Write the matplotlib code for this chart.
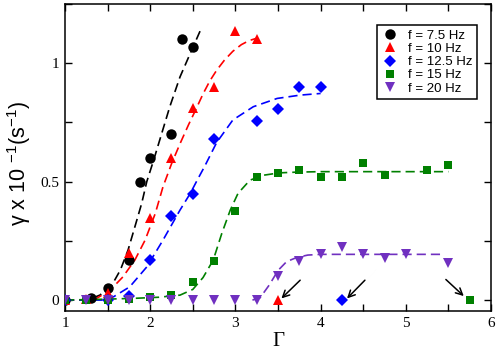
import matplotlib
matplotlib.use("Agg")
import matplotlib.pyplot as plt
from matplotlib.ticker import MultipleLocator, FuncFormatter

plt.rcParams['mathtext.fontset'] = 'custom'
plt.rcParams['mathtext.rm'] = 'Liberation Sans'
plt.rcParams['mathtext.it'] = 'Liberation Sans:italic'

# --- measured points ---
labels = ['f = 7.5 Hz', 'f = 10 Hz', 'f = 12.5 Hz', 'f = 15 Hz', 'f = 20 Hz']

g75 = [1.0, 1.3, 1.5, 1.75, 1.875, 2.0, 2.25, 2.375, 2.5]
y75 = [0, 0.01, 0.05, 0.17, 0.50, 0.60, 0.70, 1.10, 1.07]

g10 = [1.0, 1.25, 1.5, 1.75, 2.0, 2.25, 2.5, 2.75, 3.0, 3.25, 3.5]
y10 = [0, 0.005, 0.03, 0.20, 0.345, 0.60, 0.81, 0.90, 1.135, 1.10, 0]

g125 = [1.0, 1.5, 1.75, 2.0, 2.25, 2.5, 2.75, 3.25, 3.5, 3.75, 4.0, 4.25]
y125 = [0, 0, 0.016, 0.168, 0.356, 0.448, 0.678, 0.757, 0.808, 0.90, 0.90, 0]

g15 = [1.0, 1.25, 1.5, 1.75, 2.0, 2.25, 2.5, 2.75, 3.0, 3.25, 3.5, 3.75, 4.0,
       4.25, 4.5, 4.75, 5.25, 5.5, 5.75]
y15 = [0, 0, 0, 0.004, 0.014, 0.02, 0.075, 0.167, 0.378, 0.52, 0.537, 0.547,
       0.519, 0.519, 0.577, 0.528, 0.548, 0.568, 0]

g20 = [1.0, 1.25, 1.5, 1.75, 2.0, 2.25, 2.5, 2.75, 3.0, 3.25, 3.5, 3.75, 4.0,
       4.25, 4.5, 4.75, 5.0, 5.5]
y20 = [0, 0, 0, 0, 0, 0, 0, 0, 0, 0, 0.101, 0.165, 0.196, 0.225, 0.194,
       0.178, 0.194, 0.155]

# --- fitted curves ---
fx75 = [1.0, 1.2, 1.29, 1.41, 1.55, 1.65, 1.74, 1.82, 1.90, 1.96, 2.04, 2.135,
        2.23, 2.35, 2.47, 2.59]
fy75 = [0, 0, 0.004, 0.021, 0.063, 0.127, 0.211, 0.309, 0.408, 0.50, 0.59,
        0.703, 0.816, 0.942, 1.041, 1.139]

fx10 = [1.0, 1.2, 1.37, 1.53, 1.68, 1.82, 1.94, 2.06, 2.15, 2.25, 2.35, 2.45,
        2.53, 2.62, 2.70, 2.78, 2.87, 2.97, 3.07, 3.16, 3.25]
fy10 = [0, 0, 0.007, 0.042, 0.098, 0.169, 0.253, 0.366, 0.478, 0.575, 0.66,
        0.74, 0.80, 0.87, 0.925, 0.97, 1.012, 1.05, 1.078, 1.095, 1.105]

fx125 = [1.0, 1.45, 1.57, 1.76, 1.96, 2.15, 2.35, 2.47, 2.55, 2.64, 2.78,
         2.97, 3.21, 3.49, 3.76, 4.0]
fy125 = [0, 0, 0.014, 0.056, 0.14, 0.253, 0.38, 0.45, 0.505, 0.565, 0.665,
         0.76, 0.816, 0.851, 0.865, 0.872]

fx15 = [1.0, 1.5, 1.85, 2.1, 2.35, 2.5, 2.62, 2.74, 2.84, 2.94, 3.03, 3.17,
        3.33, 3.52, 3.72, 4.0, 5.5]
fy15 = [0, 0.004, 0.008, 0.012, 0.021, 0.045, 0.095, 0.169, 0.281, 0.38,
        0.45, 0.506, 0.527, 0.537, 0.54, 0.542, 0.542]

fx20 = [3.2, 3.29, 3.4, 3.5, 3.6, 3.72, 3.85, 4.0, 5.46]
fy20 = [0, 0.01, 0.065, 0.125, 0.162, 0.18, 0.19, 0.193, 0.193]

# arrows: (tail x, tail y, head x, head y)
arrows = [(3.76, 0.084, 3.54, 0.007),
          (4.52, 0.084, 4.31, 0.007),
          (5.47, 0.087, 5.68, 0.017)]

colors = ['black', '#ff0000', '#0000ff', '#008000', '#7030c0']
markers = ['o', '^', 'D', 's', 'v']
sizes = [7.5, 7.5, 6.0, 6.3, 7.5]

fig = plt.figure(figsize=(4.98, 3.53), dpi=100)
ax = fig.add_axes([0.1305, 0.119, 0.8555, 0.870])

pts = [(g75, y75), (g10, y10), (g125, y125), (g15, y15), (g20, y20)]
fits = [(fx75, fy75), (fx10, fy10), (fx125, fy125), (fx15, fy15), (fx20, fy20)]

for (fx, fy), c in zip(fits, colors):
    ax.plot(fx, fy, color=c, lw=1.2, linestyle=(0, (5.5, 3)), zorder=2)

for (gx, gy), c, m, s, lab in zip(pts, colors, markers, sizes, labels):
    ax.plot(gx, gy, linestyle='none', marker=m, color=c, ms=s,
            markeredgewidth=0, label=lab, zorder=3)

for tx, ty, hx, hy in arrows:
    ax.annotate('', xy=(hx, hy), xytext=(tx, ty),
                arrowprops=dict(arrowstyle='->', color='black', lw=1.1,
                                mutation_scale=12, shrinkA=0, shrinkB=0))

ax.set_xlim(1, 6)
ax.set_ylim(-0.046, 1.25)

ax.xaxis.set_major_locator(MultipleLocator(1))
ax.xaxis.set_minor_locator(MultipleLocator(0.5))
ax.yaxis.set_major_locator(MultipleLocator(0.5))
ax.yaxis.set_minor_locator(MultipleLocator(0.25))
ax.yaxis.set_major_formatter(FuncFormatter(lambda v, p: '%g' % v))
ax.xaxis.set_major_formatter(FuncFormatter(lambda v, p: '%g' % v))

ax.tick_params(which='both', direction='in', top=True, right=True,
               length=5, width=1)
ax.tick_params(which='major', labelsize=11, pad=4)
for lab in ax.get_xticklabels() + ax.get_yticklabels():
    lab.set_fontfamily('Liberation Serif')
for sp in ax.spines.values():
    sp.set_linewidth(1.1)

ax.set_xlabel('Γ', fontfamily='Liberation Serif', fontsize=15, labelpad=2)
ax.set_ylabel(r'γ x 10 $^{-1}$(s$^{-1}$)', fontfamily='Liberation Sans',
              fontsize=15.5)
ax.yaxis.set_label_coords(-0.074, 0.48)

leg = ax.legend(loc='upper right', bbox_to_anchor=(0.967, 0.932),
                prop={'family': 'Liberation Sans', 'size': 9.5},
                fancybox=False, framealpha=1, edgecolor='black',
                labelspacing=0.08, handletextpad=0.7, borderpad=0.35,
                handlelength=1.3, borderaxespad=0)
leg.get_frame().set_linewidth(1.1)

fig.savefig('out.png', dpi=100)
